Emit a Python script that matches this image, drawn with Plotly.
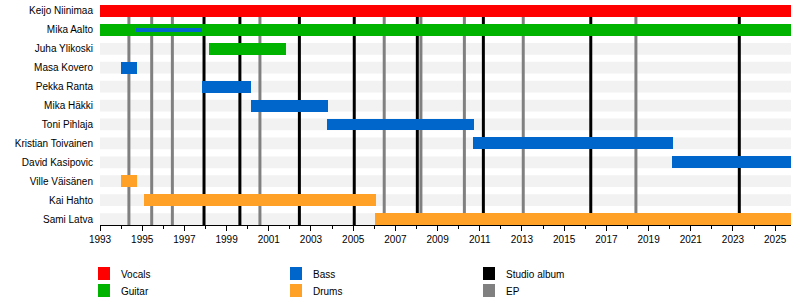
import plotly.graph_objects as go

# ---- data ----
members = ["Keijo Niinimaa", "Mika Aalto", "Juha Ylikoski", "Masa Kovero", "Pekka Ranta",
           "Mika Häkki", "Toni Pihlaja", "Kristian Toivainen", "David Kasipovic",
           "Ville Väisänen", "Kai Hahto", "Sami Latva"]

span_member = ["Keijo Niinimaa", "Mika Aalto", "Mika Aalto", "Juha Ylikoski", "Masa Kovero",
               "Pekka Ranta", "Mika Häkki", "Toni Pihlaja", "Kristian Toivainen",
               "David Kasipovic", "Ville Väisänen", "Kai Hahto", "Sami Latva"]
span_role = ["Vocals", "Guitar", "Bass", "Guitar", "Bass",
             "Bass", "Bass", "Bass", "Bass",
             "Bass", "Drums", "Drums", "Drums"]
span_start = [1993.0, 1993.0, 1994.7, 1998.17, 1994.0,
              1997.83, 2000.15, 2003.77, 2010.7,
              2020.12, 1994.0, 1995.08, 2006.05]
span_end = [2025.75, 2025.75, 1997.83, 2001.8, 1994.75,
            2000.17, 2003.8, 2010.72, 2020.15,
            2025.75, 1994.75, 2006.08, 2025.75]
span_secondary = [False, False, True, False, False,
                  False, False, False, False,
                  False, False, False, False]

studio_albums = [1997.93, 1999.63, 2002.45, 2005.05, 2008.04, 2011.17, 2016.26, 2023.3]
eps = [1994.37, 1995.45, 1996.43, 2000.58, 2006.47, 2008.21, 2010.27, 2013.06, 2018.4]

legend_items = [["Vocals", "Guitar"], ["Bass", "Drums"], ["Studio album", "EP"]]

x_start, x_end = 1993.0, 2025.75

# ---- styles ----
role_colors = {"Vocals": "#ff0000", "Guitar": "#00b300", "Bass": "#0066cc",
               "Drums": "#ffa126", "Studio album": "#000000", "EP": "#808080"}
FONT = "Liberation Sans, Arial, sans-serif"
BAR_W = 0.63
THIN_W = 0.24
PAD = 0.315

fig = go.Figure()

for m, r, s, e, sec in zip(span_member, span_role, span_start, span_end, span_secondary):
    fig.add_trace(go.Bar(
        y=[m], x=[e - s], base=[s], orientation="h",
        width=THIN_W if sec else BAR_W,
        marker=dict(color=role_colors[r], line=dict(width=0)),
        showlegend=False, hoverinfo="skip"))

n = len(members)
shapes = []
# background stripes
for i, m in enumerate(members):
    shapes.append(dict(type="rect", xref="x", yref="y", x0=x_start, x1=x_end,
                       y0=i - 0.31, y1=i + 0.31, fillcolor="#f2f2f2",
                       line=dict(width=0), layer="below"))
# release lines
for yr in eps:
    shapes.append(dict(type="line", xref="x", yref="y", x0=yr, x1=yr, y0=-PAD, y1=n - 1 + PAD,
                       line=dict(color=role_colors["EP"], width=3), layer="below"))
for yr in studio_albums:
    shapes.append(dict(type="line", xref="x", yref="y", x0=yr, x1=yr, y0=-PAD, y1=n - 1 + PAD,
                       line=dict(color=role_colors["Studio album"], width=3), layer="below"))

# custom legend
L, R, T, B = 100, 9, 5, 80
W, H = 800, 305
pw, ph = W - L - R, H - T - B
def px(xp):
    return (xp - L) / pw
def py(yp):
    return (H - B - yp) / ph

annotations = []
col_x = [98, 290, 483]
row_y = [267, 284]
for ci, col in enumerate(legend_items):
    for ri, label in enumerate(col):
        x0p, y0p = col_x[ci], row_y[ri]
        shapes.append(dict(type="rect", xref="paper", yref="paper",
                           x0=px(x0p), x1=px(x0p + 12), y0=py(y0p + 13), y1=py(y0p),
                           fillcolor=role_colors[label], line=dict(width=0)))
        annotations.append(dict(xref="paper", yref="paper", x=px(x0p + 21), y=py(y0p + 7),
                                text=label, showarrow=False, xanchor="left", yanchor="middle",
                                font=dict(family=FONT, size=10, color="#000")))

fig.update_layout(
    width=W, height=H,
    margin=dict(l=L, r=R, t=T, b=B),
    paper_bgcolor="white", plot_bgcolor="white",
    barmode="overlay", bargap=0,
    shapes=shapes, annotations=annotations,
    font=dict(family=FONT, size=10, color="#000"),
    xaxis=dict(range=[x_start, x_end], tick0=1993, dtick=2, ticks="outside", ticklen=5,
               tickcolor="#000", tickwidth=1, showgrid=False, zeroline=False,
               showline=True, linecolor="#000", linewidth=1,
               minor=dict(dtick=1, tick0=1993, ticks="outside", ticklen=3, tickcolor="#000",
                          showgrid=False),
               tickfont=dict(family=FONT, size=10, color="#000")),
    yaxis=dict(type="category", categoryorder="array", categoryarray=members,
               range=[n - 1 + PAD, -PAD], showgrid=False, zeroline=False,
               ticks="", showline=False, ticklabelstandoff=6,
               tickfont=dict(family=FONT, size=10, color="#000")),
)

fig.write_html("out.html")
